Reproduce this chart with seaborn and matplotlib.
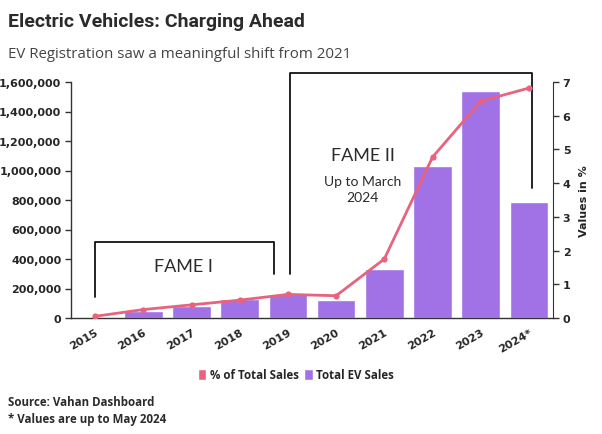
import matplotlib
matplotlib.use('Agg')
import matplotlib.pyplot as plt
from matplotlib.ticker import FuncFormatter
from matplotlib.patches import Patch
import seaborn as sns
import pandas as pd

years = ['2015', '2016', '2017', '2018', '2019', '2020', '2021', '2022', '2023', '2024*']
ev_sales = [1500, 48000, 84000, 128000, 162000, 122000, 332000, 1028000, 1537000, 789000]
pct_sales = [0.05, 0.25, 0.39, 0.53, 0.70, 0.66, 1.75, 4.77, 6.43, 6.82]

bar_color = '#A072E6'
line_color = '#E8637F'
text_dark = '#2b2b2b'

df = pd.DataFrame({'Year': years, 'Total EV Sales': ev_sales, '% of Total Sales': pct_sales})

sns.set_style('white')
plt.rcParams['font.family'] = ['DejaVu Sans']

fig = plt.figure(figsize=(6.02, 4.35), dpi=100)
ax = fig.add_axes([71 / 602, 1 - 319 / 435, (553 - 71) / 602, (319 - 83) / 435])

sns.barplot(data=df, x='Year', y='Total EV Sales', color=bar_color, saturation=1,
            width=0.8, ax=ax, zorder=2)
ax.set_xlim(-0.5, 9.5)
ax.set_ylim(0, 1600000)
ax.yaxis.set_major_formatter(FuncFormatter(lambda v, p: f'{int(v):,}'))
ax.set_xlabel('')
ax.set_ylabel('')

ax2 = ax.twinx()
sns.lineplot(x=range(len(years)), y=pct_sales, color=line_color, lw=2, marker='o',
             markersize=4.5, markeredgewidth=0, ax=ax2, zorder=3)
ax2.set_ylim(0, 7)
ax2.set_ylabel('Values in %', fontsize=8, fontweight='bold', labelpad=6)

for a in (ax, ax2):
    for s in a.spines.values():
        s.set_visible(False)
ax.spines['left'].set_visible(True)
ax2.spines['right'].set_visible(True)
ax.spines['bottom'].set_visible(True)
for s in ('left', 'bottom'):
    ax.spines[s].set_color('#333333')
    ax.spines[s].set_linewidth(1)
ax2.spines['right'].set_color('#333333')

ax.tick_params(axis='y', length=4, width=1, color='#333333', labelsize=8, pad=3)
ax.tick_params(axis='x', length=4, width=1, color='#333333', labelsize=8, pad=2)
ax2.tick_params(axis='y', length=4, width=1, color='#333333', labelsize=8, pad=3)
for lab in ax.get_yticklabels() + ax2.get_yticklabels():
    lab.set_fontweight('bold')
for lab in ax.get_xticklabels():
    lab.set_fontweight('bold')
    lab.set_rotation(30)
    lab.set_ha('right')
    lab.set_rotation_mode('anchor')

# FAME brackets
kw = dict(color='#111111', lw=1.3, clip_on=False, zorder=4)
ax.plot([0, 0, 3.72, 3.72], [142000, 515000, 515000, 298000], **kw)
ax.plot([4.05, 4.05, 9.06, 9.06], [298000, 1660000, 1660000, 881000], **kw)
ax.text(1.83, 355000, 'FAME I', ha='center', va='center', fontsize=13,
        family='Lato', color=text_dark)
ax.text(5.55, 1105000, 'FAME II', ha='center', va='center', fontsize=13,
        family='Lato', color=text_dark)
ax.text(5.55, 875000, 'Up to March\n2024', ha='center', va='center', fontsize=10,
        family='Lato', color=text_dark, linespacing=1.35)

# titles
fig.text(8 / 602, 1 - 22 / 435, 'Electric Vehicles: Charging Ahead', fontsize=14,
         fontweight='bold', family='Roboto', color=text_dark, va='center')
fig.text(8 / 602, 1 - 54 / 435, 'EV Registration saw a meaningful shift from 2021',
         fontsize=10.8, family='Open Sans', color='#444444', va='center')

handles = [Patch(facecolor=line_color, label='% of Total Sales'),
           Patch(facecolor=bar_color, label='Total EV Sales')]
fig.legend(handles=handles, loc='center', bbox_to_anchor=(296 / 602, 1 - 376 / 435),
           ncol=2, frameon=False, handlelength=0.7, handleheight=1.1,
           handletextpad=0.3, columnspacing=0.5,
           prop={'family': 'Open Sans', 'weight': 'bold', 'size': 8.3})

fig.text(8 / 602, 1 - 403 / 435, 'Source: Vahan Dashboard', fontsize=8.3,
         fontweight='bold', family='Open Sans', color=text_dark, va='center')
fig.text(8 / 602, 1 - 420 / 435, '* Values are up to May 2024', fontsize=8.3,
         fontweight='bold', family='Open Sans', color=text_dark, va='center')

fig.savefig('out.png', dpi=100)
